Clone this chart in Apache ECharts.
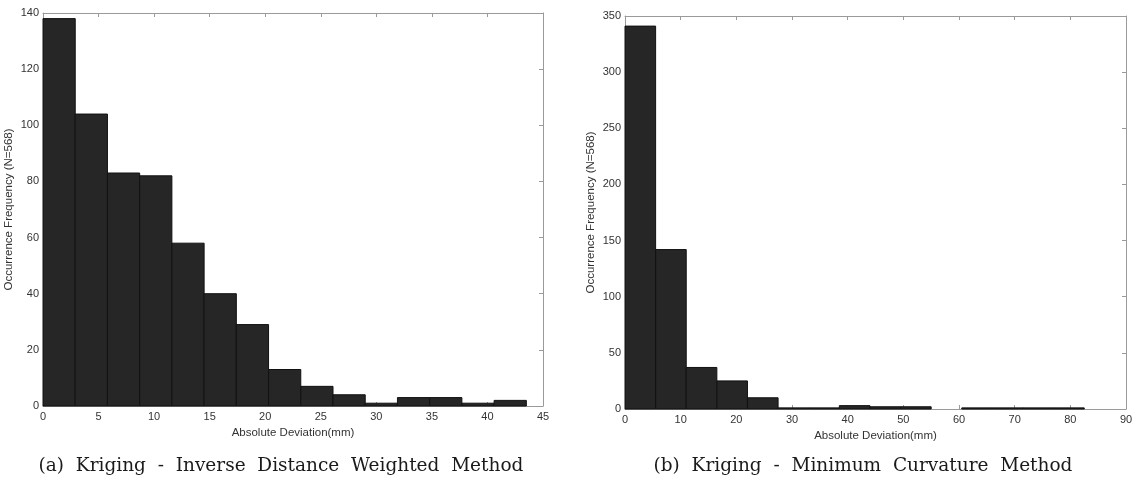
<!DOCTYPE html>
<html>
<head>
<meta charset="utf-8">
<script src="https://cdn.jsdelivr.net/npm/echarts@6/dist/echarts.min.js"></script>
<style>
html,body{margin:0;padding:0;background:#fff;}
#chart{width:1137px;height:483px;}
</style>
</head>
<body>
<div id="chart"></div>
<script>
// ---- data ----
const edgesA = [0, 2.9, 5.8, 8.7, 11.6, 14.5, 17.4, 20.3, 23.2, 26.1, 29, 31.9, 34.8, 37.7, 40.6, 43.5];
const countsA = [138, 104, 83, 82, 58, 40, 29, 13, 7, 4, 1, 3, 3, 1, 2];
const edgesB = [0, 5.5, 11, 16.5, 22, 27.5, 33, 38.5, 44, 49.5, 55, 60.5, 66, 71.5, 77, 82.5];
const countsB = [341, 142, 37, 25, 10, 1, 1, 3, 2, 2, 0, 1, 1, 1, 1];
const xTicksA = {min: 0, max: 45, interval: 5};
const yTicksA = {min: 0, max: 140, interval: 20};
const xTicksB = {min: 0, max: 90, interval: 10};
const yTicksB = {min: 0, max: 350, interval: 50};
const xLabel = 'Absolute Deviation(mm)';
const yLabel = 'Occurrence Frequency (N=568)';
const captionA = '(a)  Kriging  -  Inverse  Distance  Weighted  Method';
const captionB = '(b)  Kriging  -  Minimum  Curvature  Method';

function rows(edges, counts) {
  return counts.map((c, i) => [edges[i], edges[i + 1], c]);
}

const frame = '#9a9a9a';
const labelColor = '#333';
const sans = 'Liberation Sans, Arial, sans-serif';

function xAxes(gi, t) {
  const base = {
    type: 'value', gridIndex: gi, min: t.min, max: t.max, interval: t.interval,
    splitLine: {show: false},
    axisLine: {show: true, onZero: false, lineStyle: {color: frame, width: 1}},
    axisTick: {show: true, inside: true, length: 4, lineStyle: {color: frame}}
  };
  return [
    Object.assign({}, base, {
      position: 'bottom',
      axisLabel: {show: true, margin: 5, fontSize: 11, color: labelColor, fontFamily: sans},
      name: xLabel, nameLocation: 'middle', nameGap: 20,
      nameTextStyle: {fontSize: 11.5, color: labelColor, fontFamily: sans}
    }),
    Object.assign({}, base, {position: 'top', axisLabel: {show: false}})
  ];
}
function yAxes(gi, t) {
  const base = {
    type: 'value', gridIndex: gi, min: t.min, max: t.max, interval: t.interval,
    splitLine: {show: false},
    axisLine: {show: true, onZero: false, lineStyle: {color: frame, width: 1}},
    axisTick: {show: true, inside: true, length: 4, lineStyle: {color: frame}}
  };
  return [
    Object.assign({}, base, {
      position: 'left',
      axisLabel: {show: true, margin: 4, fontSize: 11, color: labelColor, fontFamily: sans},
      name: yLabel, nameLocation: 'middle', nameGap: 28, nameRotate: 90,
      nameTextStyle: {fontSize: 11.5, color: labelColor, fontFamily: sans}
    }),
    Object.assign({}, base, {position: 'right', axisLabel: {show: false}})
  ];
}

function renderBar(params, api) {
  const c = api.value(2);
  if (!c) return null;
  const p0 = api.coord([api.value(0), c]);
  const p1 = api.coord([api.value(1), 0]);
  return {
    type: 'rect',
    shape: {x: p0[0], y: p0[1], width: p1[0] - p0[0], height: p1[1] - p0[1]},
    style: {fill: '#262626', stroke: '#111', lineWidth: 1}
  };
}

const capFont = {fontSize: 18.5, fontFamily: 'DejaVu Serif, serif', fill: '#1a1a1a',
                 textAlign: 'center', textVerticalAlign: 'middle'};

const chart = echarts.init(document.getElementById('chart'), null, {renderer: 'canvas'});
chart.setOption({
  animation: false,
  backgroundColor: '#fff',
  grid: [
    {left: 43, top: 13, width: 500, height: 393},
    {left: 625, top: 16, width: 501, height: 393}
  ],
  xAxis: [...xAxes(0, xTicksA), ...xAxes(1, xTicksB)],
  yAxis: [...yAxes(0, yTicksA), ...yAxes(1, yTicksB)],
  series: [
    {type: 'custom', xAxisIndex: 0, yAxisIndex: 0, renderItem: renderBar,
     encode: {x: [0, 1], y: 2}, data: rows(edgesA, countsA), silent: true},
    {type: 'custom', xAxisIndex: 2, yAxisIndex: 2, renderItem: renderBar,
     encode: {x: [0, 1], y: 2}, data: rows(edgesB, countsB), silent: true}
  ],
  graphic: [
    {type: 'text', position: [281, 466], style: Object.assign({text: captionA}, capFont)},
    {type: 'text', position: [863, 466], style: Object.assign({text: captionB}, capFont)}
  ]
});
</script>
</body>
</html>
